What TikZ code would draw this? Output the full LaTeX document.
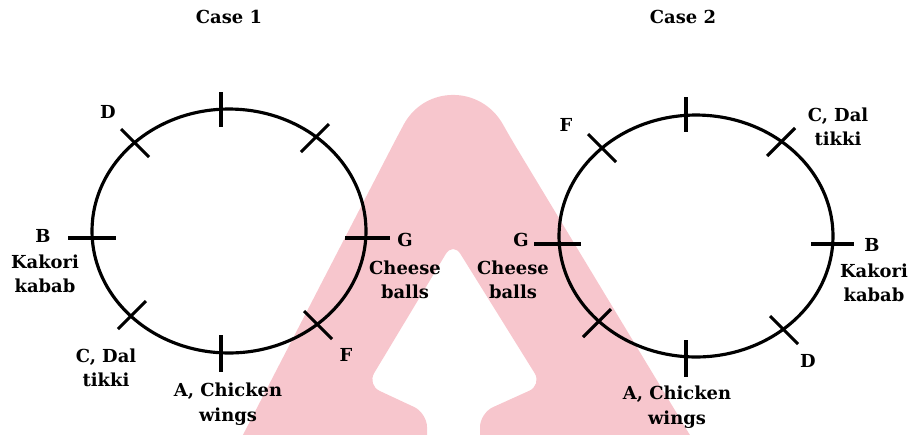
\documentclass[tikz,border=0pt]{standalone}
\usepackage{fontspec}
\setmainfont{DejaVu Serif}
\usepackage{xcolor}
\definecolor{markpink}{RGB}{247,198,205}

\begin{document}
\begin{tikzpicture}[x=0.02cm, y=-0.02cm]
  % Style definitions
  \tikzstyle{ring} = [draw=black, line width=1.8pt]
  \tikzstyle{tick} = [draw=black, line width=1.8pt]
  \tikzstyle{lbl} = [font=\fontsize{10.2}{14}\selectfont\bfseries, align=center, inner sep=0pt]

  \useasboundingbox (0,0) rectangle (909,434);

  % Watermark
  \begin{scope}
    \clip (0,0) rectangle (909,434);
    \fill[markpink, rounded corners=8pt] (230,460) -- (397,137)
      .. controls (425,85) and (481,85) .. (510,137) -- (705,460) -- (480,460)
      -- (480,413) -- (542,385) -- (453,242) -- (367,385) -- (427,413)
      -- (427,460) -- cycle;
  \end{scope}

  % Case 1
  \node (case1) [lbl] at (229,17) {Case 1};
  \draw[ring] (229,231) ellipse [x radius=2.74cm, y radius=2.44cm];
  \draw[tick] (221,92) -- (221,127);
  \draw[tick] (221,335) -- (221,372);
  \draw[tick] (68,238) -- (116,238);
  \draw[tick] (345,238) -- (390,238);
  \draw[tick] (121,129) -- (149,157);
  \draw[tick] (301,152) -- (329,124);
  \draw[tick] (118,329) -- (146,301);
  \draw[tick] (304,311) -- (332,339);

  \node (d1) [lbl] at (108,112) {D};
  \node (b1) [lbl] at (43,236) {B};
  \node (b1name) [lbl] at (45,274) {Kakori\\kabab};
  \node (c1) [lbl] at (106,368) {C, Dal\\tikki};
  \node (a1) [lbl] at (228,404) {A, Chicken\\wings};
  \node (f1) [lbl] at (346,355) {F};
  \node (g1) [lbl] at (405,240) {G};
  \node (g1name) [lbl] at (405,280) {Cheese\\balls};

  % Case 2
  \node (case2) [lbl] at (683,17) {Case 2};
  \draw[ring] (696,236) ellipse [x radius=2.74cm, y radius=2.42cm];
  \draw[tick] (686,97) -- (686,132);
  \draw[tick] (686,340) -- (686,377);
  \draw[tick] (534,244) -- (581,244);
  \draw[tick] (811,244) -- (854,244);
  \draw[tick] (588,134) -- (616,162);
  \draw[tick] (767,156) -- (795,128);
  \draw[tick] (583,337) -- (611,309);
  \draw[tick] (770,316) -- (798,344);

  \node (f2) [lbl] at (566,125) {F};
  \node (c2) [lbl] at (838,127) {C, Dal\\tikki};
  \node (b2) [lbl] at (872,245) {B};
  \node (b2name) [lbl] at (874,283) {Kakori\\kabab};
  \node (d2) [lbl] at (808,361) {D};
  \node (a2) [lbl] at (677,407) {A, Chicken\\wings};
  \node (g2) [lbl] at (521,240) {G};
  \node (g2name) [lbl] at (513,280) {Cheese\\balls};
\end{tikzpicture}
\end{document}
